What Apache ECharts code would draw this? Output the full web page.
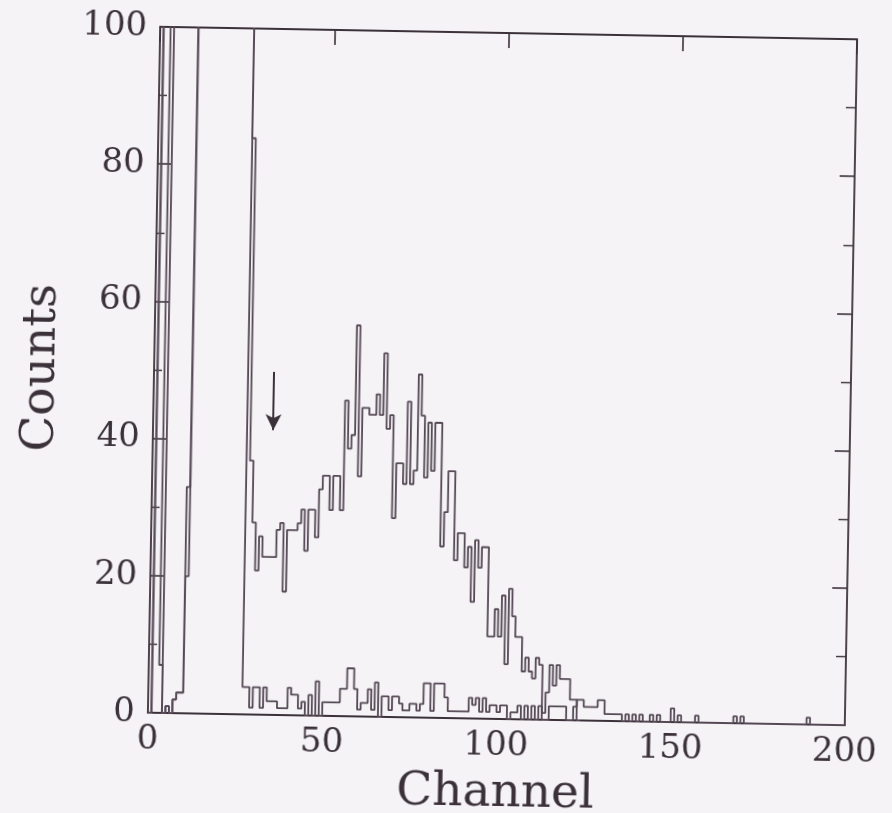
<!DOCTYPE html>
<html>
<head>
<meta charset="utf-8">
<script src="https://cdn.jsdelivr.net/npm/echarts@6/dist/echarts.min.js"></script>
<style>
  html, body { margin: 0; padding: 0; background: #f5f3f6; overflow: hidden; }
  #main { width: 892px; height: 813px; transform: rotate(1.03deg); transform-origin: 502.75px 376px; }
</style>
</head>
<body>
<div id="main"></div>
<script>
// ---- data (counts per channel, values > 100 are off-scale) ----
const xMin = 0, xMax = 200, xStep = 50;
const yMin = 0, yMax = 100, yStep = 20;

// upper spectrum (channels 0..123)
const upperCounts = [
  0,150,150,150,0,1,0,2,3,3,
  33,150,150,150,150,150,150,150,150,150,
  150,150,150,150,150,150,150,84,37,28,
  21,26,23,23,23,23,27,28,18,27,
  27,27,28,30,24,30,30,26,33,35,
  35,30,35,35,30,46,39,41,57,35,
  45,45,44,44,47,44,53,42,44,29,
  37,37,34,46,34,36,50,44,35,43,
  36,43,43,25,30,36,36,23,27,27,
  22,25,17,26,22,25,25,12,12,16,
  12,18,8,19,15,12,12,7,9,7,
  6,9,8,1,4,8,5,8,6,6,
  6,3,3,0
];

// lower spectrum (channels 0..199)
const lowerCounts = [
  0,150,150,7,0,1,0,2,3,3,
  20,150,150,150,150,150,150,150,150,150,
  150,150,150,150,150,150,150,4,4,1,
  4,4,1,4,2,2,2,1,1,1,
  4,3,3,1,2,0,3,0,5,0,
  2,2,2,2,2,4,4,7,7,4,
  1,2,2,4,1,5,0,3,3,1,
  3,3,2,1,1,2,2,1,2,5,
  5,1,5,5,5,3,1,1,1,1,
  1,1,3,2,3,1,3,1,2,2,
  1,2,2,0,1,1,2,0,2,0,
  2,0,2,0,0,2,2,2,2,2,
  0,0,2,3,3,2,2,2,2,3,
  3,1,1,1,1,1,0,1,0,1,
  0,1,0,0,1,0,1,0,0,0,
  2,0,1,0,0,0,0,1,0,0,
  0,0,0,0,0,0,0,0,1,0,
  1,0,0,0,0,0,0,0,0,0,
  0,0,0,0,0,0,0,0,0,1,
  0,0,0,0,0,0,0,0,0,0
];

// annotation arrow (channel, from count, to count)
const arrowChannel = [34.5];
const arrowFrom = [50];
const arrowTo = [41.5];

const xTitle = 'Channel';
const yTitle = 'Counts';

// ---- build ----
function toSteps(counts) {
  const pts = [];
  for (let i = 0; i < counts.length; i++) pts.push([i, counts[i]]);
  pts.push([counts.length, 0]);
  return pts;
}

const ink = '#3b3139';
const lineInk = '#554956';
const font = 'DejaVu Serif';

const chart = echarts.init(document.getElementById('main'), null, { renderer: 'canvas' });

const frameLine = { show: true, onZero: false, lineStyle: { color: ink, width: 1.8 } };

chart.setOption({
  backgroundColor: '#f5f3f6',
  animation: false,
  grid: { left: 154, top: 33, right: 41, bottom: 94, containLabel: false, outerBoundsMode: 'none' },
  xAxis: [
    {
      type: 'value', min: xMin, max: xMax, interval: xStep, position: 'bottom',
      axisLine: frameLine,
      axisTick: { show: false },
      splitLine: { show: false },
      axisLabel: { fontFamily: font, fontSize: 34, color: ink, margin: 10, showMinLabel: true, showMaxLabel: true },
      name: xTitle, nameLocation: 'middle', nameGap: 51,
      nameTextStyle: { fontFamily: font, fontSize: 47, color: ink }
    },
    {
      type: 'value', min: xMin, max: xMax, interval: xStep, position: 'top',
      axisLine: frameLine,
      axisTick: { show: true, inside: true, length: 15, lineStyle: { color: ink, width: 1.6 } },
      axisLabel: { show: false },
      splitLine: { show: false }
    }
  ],
  yAxis: [
    {
      type: 'value', min: yMin, max: yMax, interval: yStep, position: 'left',
      axisLine: frameLine,
      axisTick: { show: true, inside: true, length: 13, lineStyle: { color: ink, width: 1.6 } },
      minorTick: { show: true, splitNumber: 2, length: 8, lineStyle: { color: ink, width: 1.4 } },
      splitLine: { show: false },
      axisLabel: { fontFamily: font, fontSize: 34, color: ink, margin: 13, showMinLabel: true, showMaxLabel: true },
      name: yTitle, nameLocation: 'middle', nameGap: 84, nameRotate: 90,
      nameTextStyle: { fontFamily: font, fontSize: 47, color: ink }
    },
    {
      type: 'value', min: yMin, max: yMax, interval: yStep, position: 'right',
      axisLine: frameLine,
      axisTick: { show: true, inside: true, length: 15, lineStyle: { color: ink, width: 1.6 } },
      minorTick: { show: true, splitNumber: 2, length: 10, lineStyle: { color: ink, width: 1.4 } },
      splitLine: { show: false },
      axisLabel: { show: false }
    }
  ],
  series: [
    {
      name: 'upper', type: 'line', step: 'end', xAxisIndex: 0, yAxisIndex: 0,
      data: toSteps(upperCounts), symbol: 'none', clip: true,
      lineStyle: { color: lineInk, width: 1.8 },
      markLine: {
        silent: true, animation: false,
        symbol: ['none', 'arrow'], symbolSize: [12, 16],
        label: { show: false },
        lineStyle: { color: ink, width: 2, type: 'solid' },
        data: [[{ coord: [arrowChannel[0], arrowFrom[0]] }, { coord: [arrowChannel[0], arrowTo[0]] }]]
      }
    },
    {
      name: 'lower', type: 'line', step: 'end', xAxisIndex: 0, yAxisIndex: 0,
      data: toSteps(lowerCounts), symbol: 'none', clip: true,
      lineStyle: { color: lineInk, width: 1.8 }
    }
  ]
});
</script>
</body>
</html>
